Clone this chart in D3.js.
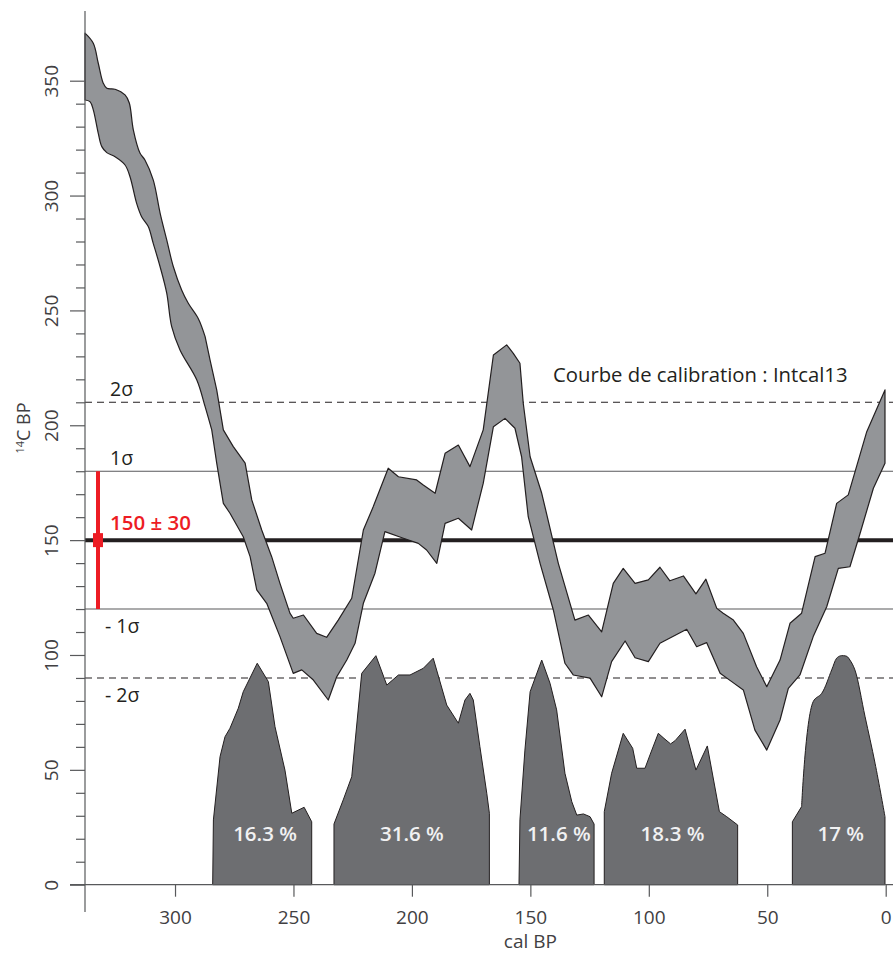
<!DOCTYPE html>
<html>
<head>
<meta charset="utf-8">
<script src="https://cdn.jsdelivr.net/npm/d3@7"></script>
<style>
  html, body { margin: 0; padding: 0; background: #ffffff; }
  svg { display: block; font-family: "Open Sans", "Noto Sans", sans-serif; }
</style>
</head>
<body>
<svg id="chart" width="893" height="956"></svg>
<script>
// ---------- DATA ----------
// Calibration curve Intcal13 (upper and lower envelopes), x = cal BP, y = 14C BP
const upperCalBP = [338.0,334.5,332.4,330.3,328.8,325.3,321.1,319.3,317.6,314.8,312.7,309.2,306.3,303.5,300.7,297.2,294.4,290.2,287.3,285.2,282.4,279.6,275.4,270.4,267.6,263.4,259.2,255.7,251.5,250.1,245.8,240.2,236.0,231.1,225.4,220.5,216.3,210.0,205.7,198.0,195.2,190.2,186.0,180.4,175.5,169.9,165.6,160.0,157.2,154.4,153.0,150.1,145.2,138.2,131.2,125.5,119.9,115.0,110.8,105.8,100.2,95.3,91.1,85.4,80.1,75.9,71.3,68.6,64.3,60.1,54.5,50.2,44.6,40.4,35.5,29.8,25.6,20.7,15.8,8.0,0.3];
const upperC14   = [370.7,366.3,357.6,348.9,346.7,346.3,343.8,340.3,328.6,318.5,315.5,306.8,292.4,280.7,269.0,258.9,253.1,246.5,238.6,228.4,215.4,198.0,190.7,183.5,167.5,154.4,142.8,131.2,118.2,116.0,117.4,109.4,107.7,115.2,124.7,154.4,164.6,181.3,177.6,176.2,174.0,170.4,187.8,191.4,182.0,198.0,230.6,235.0,231.3,227.0,209.6,186.3,170.4,139.9,115.2,117.4,110.1,131.2,137.7,131.2,132.7,138.2,132.3,134.4,126.6,133.0,120.3,118.2,115.2,109.4,94.9,86.2,97.8,113.8,118.2,142.8,144.3,166.0,169.7,197.2,215.4];
const lowerCalBP = [338.0,335.9,334.5,332.4,330.9,328.8,325.3,321.1,319.0,316.2,314.1,311.3,309.2,306.3,303.5,301.4,297.9,290.8,287.3,284.5,282.4,279.6,276.8,271.2,268.3,265.5,261.3,255.7,250.1,246.5,241.6,235.3,231.7,227.5,224.0,220.5,215.6,211.4,203.6,197.3,193.8,189.5,186.0,180.4,174.8,169.9,165.6,160.7,156.5,153.7,150.9,145.9,140.3,135.4,131.9,124.8,119.9,115.7,110.0,105.8,100.2,95.3,84.0,79.8,75.6,69.9,65.0,60.1,55.2,50.2,44.6,41.1,36.2,30.6,24.9,20.0,15.1,10.8,5.2,0.3];
const lowerC14   = [341.6,340.9,337.3,327.1,321.3,318.7,316.9,313.3,308.2,296.6,290.8,286.5,279.2,269.0,257.5,242.9,232.8,219.7,208.1,198.0,183.5,166.0,161.7,151.5,142.8,128.3,122.5,108.0,92.0,93.5,89.1,80.4,90.6,97.8,105.1,122.5,135.6,153.7,150.8,148.6,145.7,139.9,157.3,159.5,154.4,174.7,199.4,203.0,198.7,186.3,160.2,139.9,119.6,96.4,91.3,89.9,81.8,97.1,106.1,98.8,97.1,105.1,111.2,103.6,105.4,92.0,88.4,84.8,67.3,58.6,71.7,85.5,91.3,108.0,121.0,137.7,138.4,153.0,172.6,183.5];
// the oldest part of the curve (cal BP >= this value) is drawn smooth
const smoothFromCalBP = 286;

// Probability distribution of the calibrated date (5 intervals), drawn on the 14C axis units
const region1CalBP = [284.1,283.8,281.0,278.9,276.8,273.3,271.2,265.3,260.6,257.8,253.6,250.7,245.5,242.3,242.3];
const region1Prob  = [0,28.2,55.7,64.4,68.1,76.8,84.0,96.4,88.4,68.8,49.9,31.1,33.7,27.4,0];
const region2CalBP = [232.9,232.9,229.0,225.4,221.2,215.2,210.6,205.7,200.8,195.2,191.0,185.3,180.4,177.6,175.5,174.1,171.3,168.4,167.3,167.3];
const region2Prob  = [0,26.4,36.9,47.0,92.0,99.7,86.9,91.3,91.3,94.2,98.6,78.2,70.3,80.4,83.3,80.4,60.1,39.8,31.1,0];
const region3CalBP = [154.8,154.4,152.3,150.1,145.2,141.7,138.9,135.4,132.5,130.4,127.6,124.8,123.1,123.1];
const region3Prob  = [0,28.2,58.6,84.0,97.8,87.7,76.1,48.5,36.1,30.3,30.8,29.6,26.4,0];
const region4CalBP = [118.8,118.8,115.7,110.8,106.8,105.1,101.6,99.5,96.0,93.6,90.8,88.9,84.7,80.1,75.3,70.2,67.1,62.5,62.5];
const region4Prob  = [0,31.8,48.5,65.9,59.4,50.7,50.7,56.5,65.9,63.7,61.3,62.7,67.7,49.9,60.4,31.8,29.6,26.0,0];
const region5CalBP = [39.4,39.4,35.5,30.6,27.0,22.8,20.7,19.2,17.9,16.4,15.1,13.0,8.7,4.5,0.3,0.3];
const region5Prob  = [0,27.4,34.0,79.7,83.3,93.5,98.6,99.6,99.7,99.4,97.8,93.5,73.1,52.9,29.6,0];
const regionLabels = ["16.3 %","31.6 %","11.6 %","18.3 %","17 %"];
const regionLabelCalBP = [262,200,138,90,19];
const regionLabelProb = [19,19,19,19,19];

// Measured date and sigma lines
const measuredAge = 150;
const measuredSigma = 30;
const sigmaLevels = [210, 180, 150, 120, 90];
const sigmaLabels = ["2σ", "1σ", "", "- 1σ", "- 2σ"];
const sigmaStyles = ["dash", "thin", "thick", "thin", "dash"];

// Axis ticks
const xTickValues = [300, 250, 200, 150, 100, 50, 0];
const yMajorTicks = [0, 50, 100, 150, 200, 250, 300, 350];
const yMinorTicks = d3.range(0, 351, 10);

// ---------- DRAWING ----------
const svg = d3.select("#chart");
const x = d3.scaleLinear().domain([338, 0]).range([85, 885.7]);
const y = d3.scaleLinear().domain([0, 350]).range([884.7, 80.7]);
const ink = "#231f20";

// sigma reference lines
const lineG = svg.append("g");
sigmaLevels.forEach((v, i) => {
  const st = sigmaStyles[i];
  lineG.append("line")
    .attr("x1", 85).attr("x2", 893)
    .attr("y1", y(v)).attr("y2", y(v))
    .attr("stroke", st === "thin" ? "#58595b" : ink)
    .attr("stroke-width", st === "thick" ? 4 : 1.1)
    .attr("stroke-dasharray", st === "dash" ? "7,5" : null);
});

// probability regions
const regions = [
  [region1CalBP, region1Prob],
  [region2CalBP, region2Prob],
  [region3CalBP, region3Prob],
  [region4CalBP, region4Prob],
  [region5CalBP, region5Prob]
];
const regLine = d3.line().x(d => x(d[0])).y(d => y(d[1]));
const smoothLine = d3.line().x(d => x(d[0])).y(d => y(d[1])).curve(d3.curveCatmullRom.alpha(0.5));
regions.forEach(([xs, ps], k) => {
  const pts = xs.map((v, i) => [v, ps[i]]);
  let d;
  if (k === 4) {
    // rounded last peak
    d = regLine(pts.slice(0, 3)) + smoothLine(pts.slice(2, 15)).replace(/^M/, "L") + regLine(pts.slice(14)).replace(/^M/, "L") + "Z";
  } else {
    d = regLine(pts) + "Z";
  }
  svg.append("path")
    .attr("d", d)
    .attr("fill", "#6d6e71")
    .attr("stroke", ink)
    .attr("stroke-width", 1)
    .attr("stroke-linejoin", "round");
});
regionLabels.forEach((t, i) => {
  svg.append("text")
    .attr("x", x(regionLabelCalBP[i]))
    .attr("y", y(regionLabelProb[i]))
    .attr("text-anchor", "middle")
    .attr("font-size", 20.5)
    .attr("font-weight", 600)
    .attr("fill", "#f1f1f2")
    .text(t);
});

// calibration band (smooth old part, angular recent part)
const upperPts = upperCalBP.map((v, i) => [v, upperC14[i]]);
const lowerPts = lowerCalBP.map((v, i) => [v, lowerC14[i]]);
const ku = upperPts.findIndex(p => p[0] < smoothFromCalBP);
const kl = lowerPts.findIndex(p => p[0] < smoothFromCalBP);
const lowerRev = lowerPts.slice().reverse();
const klr = lowerRev.length - kl;
const bandD =
  smoothLine(upperPts.slice(0, ku)) +
  regLine(upperPts.slice(ku - 1)).replace(/^M/, "L") +
  regLine(lowerRev.slice(0, klr)).replace(/^M/, "L") +
  smoothLine(lowerRev.slice(klr - 1)).replace(/^M/, "L") + "Z";
svg.append("path")
  .attr("d", bandD)
  .attr("fill", "#939598")
  .attr("stroke", ink)
  .attr("stroke-width", 1.2)
  .attr("stroke-linejoin", "round");

// sigma labels
sigmaLevels.forEach((v, i) => {
  if (!sigmaLabels[i]) return;
  const above = v > measuredAge;
  svg.append("text")
    .attr("x", above ? 110 : 105)
    .attr("y", above ? y(v) - 6 : y(v) + 24)
    .attr("font-size", 19.5)
    .attr("fill", ink)
    .text(sigmaLabels[i]);
});

// measured date bar
svg.append("line")
  .attr("x1", 98).attr("x2", 98)
  .attr("y1", y(measuredAge + measuredSigma)).attr("y2", y(measuredAge - measuredSigma))
  .attr("stroke", "#ed1c24").attr("stroke-width", 4);
svg.append("rect")
  .attr("x", 93).attr("y", y(measuredAge) - 7)
  .attr("width", 10).attr("height", 14)
  .attr("fill", "#ed1c24");
svg.append("text")
  .attr("x", 110).attr("y", y(measuredAge) - 10)
  .attr("font-size", 20.5).attr("font-weight", 600)
  .attr("fill", "#ed1c24")
  .text(measuredAge + " ± " + measuredSigma);

// title
svg.append("text")
  .attr("x", 553).attr("y", 382)
  .attr("font-size", 20.3)
  .attr("fill", ink)
  .text("Courbe de calibration : Intcal13");

// Y axis
const axisColor = "#58595b";
svg.append("line").attr("x1", 85).attr("x2", 85).attr("y1", 11).attr("y2", 912)
  .attr("stroke", axisColor).attr("stroke-width", 1.2);
const yAxisMinor = d3.axisLeft(y).tickValues(yMinorTicks.filter(v => v % 50 !== 0)).tickSize(9).tickFormat("");
const gyMin = svg.append("g").attr("transform", "translate(85,0)").call(yAxisMinor);
gyMin.select(".domain").remove();
gyMin.selectAll("line").attr("stroke", axisColor).attr("stroke-width", 1.2);
const yAxisMajor = d3.axisLeft(y).tickValues(yMajorTicks).tickSize(15).tickFormat(d3.format("d"));
const gyMaj = svg.append("g").attr("transform", "translate(85,0)").call(yAxisMajor);
gyMaj.select(".domain").remove();
gyMaj.selectAll("line").attr("stroke", axisColor).attr("stroke-width", 1.2);
gyMaj.selectAll("text")
  .attr("x", null).attr("dy", null)
  .attr("transform", "translate(-27,0) rotate(-90)")
  .attr("text-anchor", "middle")
  .attr("font-size", 19)
  .attr("font-family", "'Open Sans', sans-serif")
  .attr("fill", "#414042");

// X axis
svg.append("line").attr("x1", 70).attr("x2", 893).attr("y1", y(0)).attr("y2", y(0))
  .attr("stroke", axisColor).attr("stroke-width", 1.2);
const xAxis = d3.axisBottom(x).tickValues(xTickValues).tickSize(12).tickFormat(d3.format("d"));
const gx = svg.append("g").attr("transform", `translate(0,${y(0)})`).call(xAxis);
gx.select(".domain").remove();
gx.selectAll("line").attr("stroke", axisColor).attr("stroke-width", 1.2);
gx.selectAll("text")
  .attr("y", 39).attr("dy", null)
  .attr("font-size", 19)
  .attr("font-family", "'Open Sans', sans-serif")
  .attr("fill", "#414042");

// axis titles
svg.append("text")
  .attr("x", x(150)).attr("y", 948)
  .attr("text-anchor", "middle")
  .attr("font-size", 19)
  .attr("fill", "#414042")
  .text("cal BP");
const yl = svg.append("text")
  .attr("transform", "translate(30,428) rotate(-90)")
  .attr("text-anchor", "middle")
  .attr("font-size", 18)
  .attr("fill", "#414042");
yl.append("tspan").attr("font-size", 11).attr("dy", -6).text("14");
yl.append("tspan").attr("dy", 6).text("C BP");
</script>
</body>
</html>
